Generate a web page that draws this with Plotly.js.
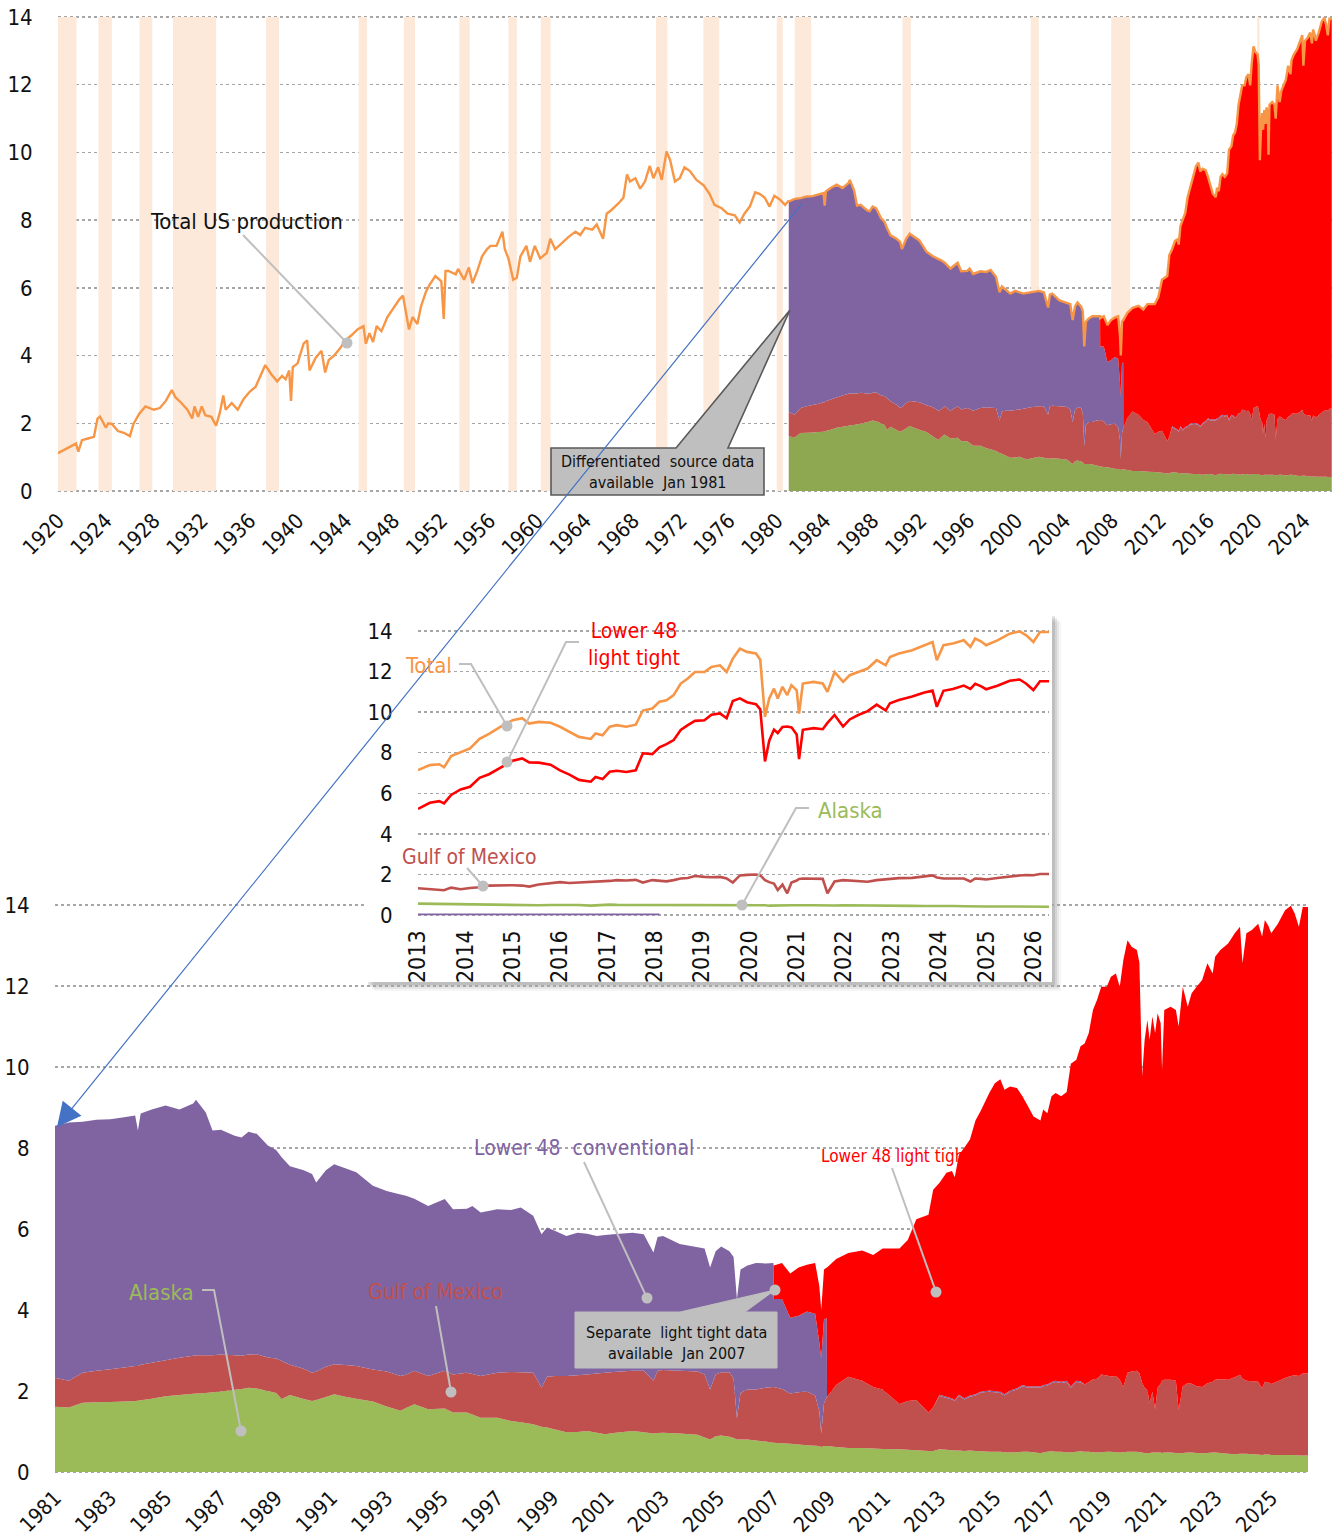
<!DOCTYPE html>
<html><head><meta charset="utf-8">
<script src="https://cdn.plot.ly/plotly-3.0.1.min.js"></script>
<style>html,body{margin:0;padding:0;background:#fff}</style>
</head><body><div id="chart" style="width:1340px;height:1537px"></div>
<script>
// ---------------- DATA ----------------
// Total US crude production (million b/d) before differentiated data (1920-1980)
const earlyYears = [1920.0,1920.5,1921.0,1921.5,1921.7,1922.0,1922.5,1923.0,1923.3,1923.5,1924.0,1924.2,1924.5,1925.0,1925.5,1926.0,1926.3,1926.8,1927.3,1928.0,1928.5,1929.0,1929.5,1929.8,1930.3,1930.8,1931.2,1931.4,1931.7,1932.0,1932.3,1932.8,1933.2,1933.5,1933.8,1934.0,1934.5,1935.0,1935.5,1936.0,1936.5,1937.0,1937.3,1937.8,1938.3,1938.7,1939.0,1939.3,1939.45,1939.6,1940.0,1940.5,1940.8,1941.0,1941.5,1942.0,1942.3,1942.6,1943.0,1943.5,1944.0,1944.5,1945.0,1945.5,1945.7,1946.0,1946.3,1946.6,1947.0,1947.5,1948.0,1948.5,1948.8,1949.0,1949.3,1949.6,1950.0,1950.3,1950.7,1951.0,1951.5,1952.0,1952.2,1952.35,1952.6,1953.2,1953.4,1953.9,1954.3,1954.6,1955.0,1955.4,1955.8,1956.1,1956.6,1957.1,1957.3,1957.6,1958.0,1958.3,1958.6,1959.1,1959.4,1959.8,1960.25,1960.8,1961.1,1961.5,1962.1,1962.6,1963.2,1963.6,1964.0,1964.6,1964.97,1965.5,1965.8,1966.2,1966.8,1967.2,1967.5,1967.75,1968.2,1968.6,1969.0,1969.4,1969.7,1970.1,1970.4,1970.8,1971.1,1971.5,1971.9,1972.3,1972.75,1973.3,1973.9,1974.4,1974.8,1975.4,1975.9,1976.5,1976.9,1977.3,1977.75,1978.2,1978.6,1979.0,1979.4,1979.8,1980.25,1980.7,1980.95];
const earlyTotal = [1.12,1.22,1.30,1.40,1.16,1.50,1.55,1.60,2.14,2.20,1.87,2.00,1.98,1.77,1.72,1.62,1.98,2.29,2.50,2.40,2.45,2.66,2.98,2.77,2.60,2.40,2.14,2.50,2.19,2.50,2.24,2.19,1.93,2.30,2.82,2.40,2.60,2.40,2.72,2.93,3.08,3.45,3.72,3.45,3.24,3.40,3.30,3.56,2.66,3.66,3.77,4.35,4.45,3.56,3.93,4.14,3.50,3.87,3.98,4.19,4.45,4.60,4.77,4.87,4.35,4.66,4.40,4.87,4.72,5.14,5.40,5.66,5.77,5.35,4.77,5.14,4.93,5.45,5.87,6.08,6.35,6.19,5.08,6.50,6.50,6.40,6.56,6.24,6.60,6.14,6.50,6.93,7.14,7.24,7.24,7.66,7.14,6.87,6.24,6.30,6.93,7.24,6.77,7.24,6.87,7.03,7.45,7.14,7.35,7.50,7.66,7.56,7.77,7.72,7.87,7.45,8.19,8.30,8.50,8.66,9.35,9.14,9.24,8.93,9.14,9.60,9.24,9.56,9.19,10.03,9.77,9.14,9.24,9.56,9.45,9.19,9.03,8.77,8.45,8.35,8.19,8.14,7.93,8.19,8.40,8.82,8.77,8.66,8.40,8.72,8.61,8.45,8.56];

// Differentiated sources from Jan 1981 (million b/d)
const years = [1981.0,1981.5,1982.0,1982.5,1983.0,1983.5,1983.9,1984.0,1984.1,1984.5,1985.0,1985.5,1986.0,1986.1,1986.45,1986.7,1987.0,1987.5,1987.75,1988.0,1988.3,1988.7,1989.0,1989.2,1989.5,1990.0,1990.3,1990.45,1990.8,1991.1,1991.5,1991.9,1992.5,1993.0,1993.5,1993.7,1994.0,1994.5,1995.1,1995.4,1995.9,1996.1,1996.4,1997.0,1997.5,1997.85,1998.3,1998.6,1998.8,1999.1,1999.5,1999.9,2000.25,2000.6,2000.9,2001.2,2001.9,2002.3,2002.65,2002.8,2003.0,2003.6,2004.25,2004.5,2004.7,2004.9,2005.1,2005.4,2005.55,2005.67,2005.8,2006.05,2006.36,2006.7,2006.99,2007.0,2007.3,2007.6,2007.9,2008.2,2008.5,2008.65,2008.72,2008.82,2008.92,2008.93,2009.26,2009.7,2010.2,2010.6,2010.94,2011.55,2011.85,2012.16,2012.6,2012.77,2013.0,2013.25,2013.45,2013.55,2013.7,2013.9,2014.1,2014.3,2014.5,2014.8,2015.0,2015.2,2015.35,2015.55,2015.8,2016.0,2016.2,2016.4,2016.65,2016.75,2016.9,2017.05,2017.2,2017.4,2017.6,2017.75,2017.95,2018.1,2018.25,2018.4,2018.55,2018.7,2018.85,2019.05,2019.2,2019.38,2019.52,2019.65,2019.8,2019.95,2020.14,2020.23,2020.33,2020.42,2020.52,2020.6,2020.7,2020.8,2020.89,2021.0,2021.05,2021.13,2021.36,2021.55,2021.65,2021.8,2021.98,2022.12,2022.3,2022.5,2022.69,2022.88,2022.97,2023.16,2023.44,2023.68,2023.87,2023.96,2024.1,2024.3,2024.53,2024.67,2024.77,2024.9,2025.0,2025.24,2025.5,2025.71,2025.85,2026.0,2026.14,2026.33];
const alaska = [1.61,1.59,1.71,1.72,1.73,1.74,1.75,1.76,1.77,1.81,1.87,1.90,1.93,1.94,1.95,1.97,1.99,2.03,2.05,2.08,2.06,2.00,1.95,1.80,1.90,1.80,1.75,1.78,1.85,1.92,1.86,1.81,1.74,1.62,1.51,1.58,1.67,1.55,1.57,1.47,1.47,1.42,1.34,1.34,1.26,1.23,1.18,1.12,1.10,1.05,0.98,0.99,1.01,0.97,0.93,0.96,1.01,0.98,0.95,0.96,0.97,0.95,0.92,0.85,0.80,0.88,0.90,0.87,0.84,0.80,0.80,0.80,0.78,0.75,0.72,0.72,0.71,0.70,0.68,0.66,0.65,0.64,0.62,0.64,0.64,0.64,0.62,0.59,0.59,0.58,0.57,0.56,0.55,0.54,0.52,0.52,0.56,0.55,0.54,0.53,0.53,0.52,0.53,0.52,0.51,0.50,0.50,0.50,0.49,0.48,0.49,0.50,0.50,0.49,0.46,0.48,0.50,0.51,0.50,0.50,0.49,0.48,0.50,0.51,0.50,0.50,0.49,0.48,0.49,0.50,0.50,0.49,0.48,0.49,0.50,0.50,0.50,0.49,0.48,0.46,0.47,0.47,0.48,0.48,0.48,0.48,0.47,0.48,0.48,0.47,0.46,0.47,0.48,0.48,0.47,0.46,0.47,0.48,0.48,0.47,0.45,0.44,0.45,0.45,0.45,0.44,0.43,0.42,0.43,0.43,0.42,0.42,0.42,0.42,0.42,0.41,0.41,0.41];
const gulf = [0.72,0.66,0.74,0.78,0.81,0.84,0.87,0.86,0.88,0.89,0.89,0.92,0.94,0.94,0.93,0.91,0.91,0.85,0.82,0.82,0.85,0.83,0.85,0.94,0.75,0.75,0.70,0.70,0.75,0.74,0.78,0.81,0.79,0.86,0.86,0.82,0.83,0.82,0.93,0.94,0.98,1.00,1.03,1.11,1.21,1.23,1.27,0.96,1.25,1.32,1.39,1.40,1.40,1.46,1.52,1.51,1.49,1.52,1.30,1.54,1.55,1.55,1.56,1.56,1.24,1.53,1.56,1.59,1.46,0.52,1.15,1.24,1.26,1.33,1.38,1.38,1.34,1.24,1.29,1.33,1.24,0.86,0.33,1.06,1.21,1.21,1.53,1.76,1.66,1.52,1.47,1.12,1.20,1.24,0.95,1.08,1.32,1.28,1.25,1.22,1.35,1.27,1.33,1.37,1.45,1.48,1.47,1.45,1.40,1.50,1.55,1.62,1.58,1.60,1.62,1.64,1.63,1.68,1.72,1.70,1.73,1.60,1.72,1.70,1.66,1.72,1.80,1.82,1.92,1.88,1.86,1.88,1.80,1.60,1.95,1.98,2.00,1.95,1.72,1.62,1.55,1.23,1.50,1.07,1.60,1.70,1.78,1.80,1.80,1.78,1.07,1.65,1.72,1.70,1.65,1.64,1.72,1.75,1.80,1.82,1.83,1.90,1.95,1.85,1.80,1.80,1.80,1.65,1.80,1.78,1.75,1.82,1.90,1.95,1.97,1.96,2.02,2.02];
const conventional = [6.22,6.38,6.20,6.20,6.17,6.18,6.18,5.81,6.20,6.25,6.29,6.13,6.23,6.31,6.00,5.55,5.55,5.42,5.39,5.50,5.44,5.23,5.15,5.03,4.90,4.90,4.91,4.67,4.85,4.94,4.86,4.78,4.54,4.46,4.48,4.42,4.25,4.20,4.24,4.08,4.05,4.15,4.04,4.04,4.00,4.07,3.88,3.79,3.69,3.58,3.46,3.52,3.47,3.40,3.40,3.40,3.41,3.37,3.17,3.30,3.31,3.13,3.07,3.11,3.01,3.04,3.11,2.99,3.01,2.95,3.05,3.06,3.12,3.07,3.06,2.17,2.22,1.87,1.89,1.97,2.02,1.70,1.85,2.06,1.95,0,0,0,0,0,0,0,0,0,0,0,0.03,0.03,0.03,0.03,0.03,0.03,0.03,0.03,0.03,0.03,0.03,0.03,0.03,0.03,0.03,0.03,0.03,0.03,0.03,0.03,0.03,0.03,0.03,0.03,0.03,0.03,0.03,0.03,0,0,0,0,0,0,0,0,0,0,0,0,0,0,0,0,0,0,0,0,0,0,0,0,0,0,0,0,0,0,0,0,0,0,0,0,0,0,0,0,0,0,0,0,0,0,0,0,0,0,0,0,0,0,0,0,0];
const lightTight = [0,0,0,0,0,0,0,0,0,0,0,0,0,0,0,0,0,0,0,0,0,0,0,0,0,0,0,0,0,0,0,0,0,0,0,0,0,0,0,0,0,0,0,0,0,0,0,0,0,0,0,0,0,0,0,0,0,0,0,0,0,0,0,0,0,0,0,0,0,0,0,0,0,0,0,0.83,0.89,1.09,1.19,1.16,1.25,1.40,1.20,1.24,1.25,3.20,3.11,3.06,3.22,3.26,3.48,3.84,3.98,4.46,4.88,5.37,5.23,5.53,5.61,5.50,5.92,6.19,6.32,6.76,6.94,7.35,7.60,7.72,7.52,7.51,7.41,7.13,6.92,6.66,6.57,6.80,6.70,7.06,7.11,7.05,7.13,7.97,7.93,8.27,8.42,8.62,9.12,9.36,9.57,9.60,9.87,9.94,9.70,10.55,10.68,10.49,10.39,10.14,7.57,8.59,9.14,8.97,9.27,9.29,9.25,8.90,7.68,9.13,9.21,9.16,9.47,9.86,9.29,9.64,9.86,10.05,10.37,10.08,10.44,10.60,10.77,10.96,11.06,10.26,11.05,11.14,11.31,11.15,11.40,11.27,11.13,11.30,11.55,11.61,11.40,11.09,11.52,11.52];

// NBER recessions (decimal years)
const recessionStart = [1920.0,1923.37,1926.8,1929.6,1937.37,1945.1,1948.87,1953.5,1957.6,1960.3,1969.92,1973.87,1980.0,1981.5,1990.5,2001.2,2007.92,2020.1];
const recessionEnd   = [1921.55,1924.5,1927.87,1933.2,1938.45,1945.8,1949.8,1954.37,1958.3,1961.12,1970.87,1975.2,1980.5,1982.87,1991.2,2001.87,2009.5,2020.3];

// Tick labels
const topTickYears = [1920,1924,1928,1932,1936,1940,1944,1948,1952,1956,1960,1964,1968,1972,1976,1980,1984,1988,1992,1996,2000,2004,2008,2012,2016,2020,2024];
const bottomTickYears = [1981,1983,1985,1987,1989,1991,1993,1995,1997,1999,2001,2003,2005,2007,2009,2011,2013,2015,2017,2019,2021,2023,2025];
const insetTickYears = [2013,2014,2015,2016,2017,2018,2019,2020,2021,2022,2023,2024,2025,2026];
const yTicks = [0,2,4,6,8,10,12,14];

// ---------------- LAYOUT HELPERS ----------------
const W = 1340, H = 1537;
const px = v => v / W;
const py = v => 1 - v / H;
const FONT = '"DejaVu Sans Condensed", "Liberation Sans Narrow", "Liberation Sans", sans-serif';
const C = {orange:'#F79646', purple:'#8064A2', gulf:'#C0504D', green:'#9BBB59', greenTop:'#8DA851', red:'#FF0000', grid:'#A6A6A6', gray:'#BFBFBF'};

const total = years.map((_, i) => alaska[i] + gulf[i] + conventional[i] + lightTight[i]);

// ---------------- TRACES ----------------
const traces = [];
[[alaska, C.greenTop],[gulf, C.gulf],[conventional, C.purple],[lightTight, C.red]].forEach(([arr, col]) => {
  traces.push({x: years, y: arr, xaxis:'x', yaxis:'y', stackgroup:'top', mode:'none', fillcolor: col, hoverinfo:'skip'});
});
traces.push({x: earlyYears.concat(years), y: earlyTotal.concat(total), xaxis:'x', yaxis:'y', mode:'lines', line:{color:C.orange, width:2.4}, hoverinfo:'skip'});
[[alaska, C.green],[gulf, C.gulf],[conventional, C.purple],[lightTight, C.red]].forEach(([arr, col]) => {
  traces.push({x: years, y: arr, xaxis:'x2', yaxis:'y2', stackgroup:'bottom', mode:'none', fillcolor: col, hoverinfo:'skip'});
});
// card (white panel behind the inset)
traces.push({x:[0.5], y:[0.5], xaxis:'x3', yaxis:'y3', mode:'markers', marker:{opacity:0}, hoverinfo:'skip'});
// inset lines 2013+
const idx = years.map((_, i) => i).filter(i => years[i] >= 2013);
const pick = arr => idx.map(i => arr[i]);
const iy = pick(years);
traces.push({x: iy, y: idx.map(i => conventional[i] > 0 ? conventional[i] : null), xaxis:'x4', yaxis:'y4', mode:'lines', line:{color:C.purple, width:1.8}, hoverinfo:'skip'});
traces.push({x: iy, y: pick(alaska), xaxis:'x4', yaxis:'y4', mode:'lines', line:{color:C.green, width:2.6}, hoverinfo:'skip'});
traces.push({x: iy, y: pick(gulf), xaxis:'x4', yaxis:'y4', mode:'lines', line:{color:C.gulf, width:2.6}, hoverinfo:'skip'});
traces.push({x: iy, y: pick(lightTight), xaxis:'x4', yaxis:'y4', mode:'lines', line:{color:C.red, width:2.6}, hoverinfo:'skip'});
traces.push({x: iy, y: pick(total), xaxis:'x4', yaxis:'y4', mode:'lines', line:{color:C.orange, width:2.6}, hoverinfo:'skip'});

// ---------------- SHAPES ----------------
const shapes = [];
recessionStart.forEach((s, i) => {
  shapes.push({type:'rect', xref:'x', yref:'y', x0:s, x1:recessionEnd[i], y0:0, y1:14, fillcolor:'#FDE9D9', line:{width:0}, layer:'between'});
});
[[3,0.10],[5,0.08],[7,0.06],[9,0.04]].forEach(([o, a]) => {
  shapes.push({type:'rect', xref:'paper', yref:'paper', x0:px(365+o), x1:px(1052+o), y0:py(982+o), y1:py(613+o), fillcolor:'rgba(0,0,0,'+a+')', line:{width:0}, layer:'below'});
});
const path = pts => 'M' + pts.map(p => px(p[0]) + ',' + py(p[1])).join('L');
shapes.push({type:'path', xref:'paper', yref:'paper', path: path([[551,448],[676,448],[790,310],[728,448],[764,448],[764,495],[551,495]]) + 'Z', fillcolor:C.gray, line:{color:'#595959', width:1.6}, layer:'above'});
shapes.push({type:'path', xref:'paper', yref:'paper', path: path([[575,1312],[680,1312],[775,1290],[745,1312],[777,1312],[777,1368],[575,1368]]) + 'Z', fillcolor:C.gray, line:{color:C.gray, width:1}, layer:'above'});
const leaders = [
  [[243,235],[347,343]],
  [[459,664],[471,664],[507,726]],
  [[579,642],[566,642],[507,762]],
  [[809,808],[796,808],[742,905]],
  [[467,868],[483,886]],
  [[584,1162],[647,1298]],
  [[892,1168],[936,1292]],
  [[202,1290],[214,1290],[241,1431]],
  [[436,1306],[451,1392]]
];
leaders.forEach(pts => {
  shapes.push({type:'path', xref:'paper', yref:'paper', path: path(pts), line:{color:C.gray, width:2}, layer:'above'});
  const d = pts[pts.length-1];
  shapes.push({type:'circle', xref:'paper', yref:'paper', x0:px(d[0]-5.5), x1:px(d[0]+5.5), y0:py(d[1]+5.5), y1:py(d[1]-5.5), fillcolor:C.gray, line:{width:0}, layer:'above'});
});
shapes.push({type:'circle', xref:'paper', yref:'paper', x0:px(769.5), x1:px(780.5), y0:py(1295.5), y1:py(1284.5), fillcolor:C.gray, line:{width:0}, layer:'above'});

// ---------------- ANNOTATIONS ----------------
const lab = (text, x, y, color, size, anchor) => ({text, x:px(x), y:py(y), xref:'paper', yref:'paper', showarrow:false, xanchor: anchor || 'left', yanchor:'middle', font:{family:FONT, size, color}});
const annotations = [
  {text:' ', xref:'paper', yref:'paper', x:px(57), y:py(1127), ax:748, ay:-927, showarrow:true, arrowhead:2, arrowsize:4, arrowwidth:1.2, arrowcolor:'#4472C4', standoff:0},
  lab('Total US production', 148, 221, '#111', 22),
  lab('Differentiated  source data<br>available  Jan 1981', 657, 472, '#111', 16, 'center'),
  lab('Separate  light tight data<br>available  Jan 2007', 676, 1343, '#111', 16, 'center'),
  lab('Total', 403, 666, C.orange, 22),
  lab('Lower 48<br>light tight', 586, 644, C.red, 21),
  lab('Alaska', 816, 810, C.green, 22),
  lab('Gulf of Mexico', 400, 857, C.gulf, 21),
  lab('Lower 48  conventional', 472, 1148, C.purple, 21),
  lab('Lower 48 light tight', 819, 1156, C.red, 17),
  lab('Alaska', 127, 1292, C.green, 22),
  lab('Gulf of Mexico', 366, 1292, C.gulf, 21)
];

// ---------------- AXES ----------------
// y axes: value 0 at pixel yb, 14 at pixel yt; range padded slightly so edge gridlines show
const PAD = 0.06;
const yDom = (yb, yt) => { const k = (yb - yt) / 14; return [py(yb + PAD * k), py(yt - PAD * k)]; };
const yTickFont = {family:FONT, size:22, color:'#111'};
const yAxis = (yb, yt, anchor) => ({domain:yDom(yb, yt), anchor, range:[-PAD, 14 + PAD], tickvals:yTicks, ticktext:yTicks.map(String), showgrid:true, gridcolor:C.grid, griddash:'dot', gridwidth:1.4, zeroline:false, showline:false, ticks:'outside', ticklen:20, tickcolor:'rgba(0,0,0,0)', tickfont:yTickFont, fixedrange:true});
const xTickFont = {family:FONT, size:21, color:'#111'};
const layout = {
  width:W, height:H, autosize:false, margin:{l:0,r:0,t:0,b:0},
  paper_bgcolor:'#fff', plot_bgcolor:'#fff', showlegend:false, font:{family:FONT, color:'#111'},
  xaxis:{domain:[px(58),px(1332)], anchor:'y', range:[1920,2026.35], tickvals:topTickYears, ticktext:topTickYears.map(String), tickangle:-45, showgrid:false, zeroline:false, ticks:'outside', ticklen:6, tickcolor:'rgba(0,0,0,0)', tickfont:xTickFont, fixedrange:true},
  yaxis: yAxis(491, 17, 'x'),
  xaxis2:{domain:[px(55),px(1308)], anchor:'y2', range:[1981,2026.33], tickvals:bottomTickYears, ticktext:bottomTickYears.map(String), tickangle:-45, showgrid:false, zeroline:false, ticks:'outside', ticklen:2, tickcolor:'rgba(0,0,0,0)', tickfont:xTickFont, fixedrange:true},
  yaxis2: yAxis(1472, 905, 'x2'),
  xaxis3:{domain:[px(365),px(1052)], anchor:'y3', range:[0,1], visible:false, fixedrange:true},
  yaxis3:{domain:[py(982),py(613)], anchor:'x3', range:[0,1], visible:false, fixedrange:true},
  xaxis4:{domain:[px(418),px(1049)], anchor:'y4', range:[2013,2026.33], tickvals:insetTickYears, ticktext:insetTickYears.map(String), tickangle:-90, showgrid:false, zeroline:false, ticks:'outside', ticklen:4, tickcolor:'rgba(0,0,0,0)', tickfont:{family:FONT, size:23, color:'#111'}, fixedrange:true},
  yaxis4: yAxis(915, 631, 'x4'),
  shapes, annotations
};

Plotly.newPlot('chart', traces, layout, {staticPlot:true, displayModeBar:false});
</script></body></html>
